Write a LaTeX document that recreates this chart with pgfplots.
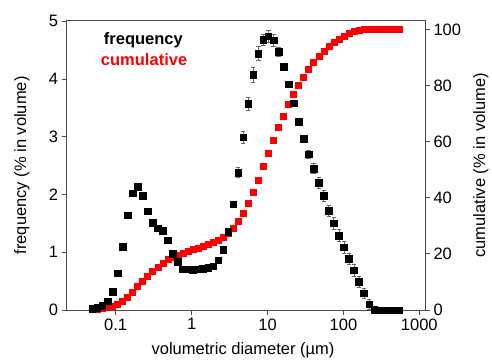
\documentclass[border=0pt]{standalone}
\usepackage{pgfplots}
\usepackage{pgfplotstable}
\usepackage{fontspec}
\setmainfont{Liberation Sans}
\pgfplotsset{compat=1.18}

\pgfplotstableread{
x f e c
0.04921 0.02 0 0.3
0.05734 0.04 0 0.4
0.06679 0.07 0 0.7
0.07779 0.15 0 1.0
0.09062 0.32 0 1.4
0.10555 0.64 0 2.0
0.12294 1.10 0 3.0
0.14322 1.64 0 4.4
0.16683 2.02 0 6.4
0.19430 2.14 0 8.4
0.22632 1.98 0 10.3
0.26364 1.71 0 12.0
0.30710 1.51 0 13.8
0.35771 1.42 0 15.3
0.41677 1.37 0 16.8
0.48540 1.21 0 18.0
0.56548 0.98 0 18.9
0.65873 0.84 0 19.7
0.76737 0.71 0 20.3
0.89387 0.71 0 20.9
1.0412 0.70 0 21.5
1.2129 0.71 0 22.2
1.4128 0.72 0 22.7
1.6456 0.73 0 23.3
1.9171 0.76 0 24.1
2.2333 0.86 0 25.0
2.6015 1.04 0 26.0
3.0304 1.36 0 27.4
3.5298 1.83 0.03 29.2
4.1114 2.38 0.09 31.6
4.7889 2.99 0.10 34.5
5.5784 3.57 0.12 37.9
6.4982 4.07 0.13 42.0
7.5697 4.44 0.12 46.4
8.8176 4.68 0.10 51.1
10.271 4.74 0.10 55.9
11.965 4.67 0.10 60.6
13.937 4.47 0.08 65.2
16.235 4.21 0.04 69.2
18.911 3.91 0.03 73.4
22.029 3.58 0.03 77.0
25.661 3.26 0.03 80.0
29.893 2.97 0.04 83.0
34.820 2.70 0.07 85.9
40.561 2.45 0.09 88.2
47.248 2.20 0.10 90.3
55.038 1.98 0.10 92.1
64.113 1.72 0.10 93.9
74.683 1.50 0.10 95.4
86.995 1.29 0.10 96.6
101.31 1.09 0.10 97.7
118.03 0.89 0.10 98.6
137.49 0.69 0.10 99.2
160.16 0.49 0.10 99.7
186.56 0.29 0.09 99.9
217.32 0.10 0.08 100
253.15 0.01 0 100
294.88 0 0 100
343.49 0 0 100
400.1 0 0 100
466.1 0 0 100
542.9 0 0 100
}\data

\begin{document}
\begin{tikzpicture}
\path[use as bounding box] (-66.7pt,-50pt) rectangle (425.3pt,310pt);
\begin{axis}[
  width=358.3pt, height=289.3pt, scale only axis,
  at={(0pt,0pt)}, anchor=south west,
  xmode=log, xmin=0.02262, xmax=1188,
  tick align=outside, major tick length=5pt,
  xminorticks=false, yminorticks=false,
  axis line style={black!70, line width=0.9pt},
  every tick/.style={black!70, line width=0.9pt},
  tick label style={font=\fontsize{16.5}{19}\selectfont},
  label style={font=\fontsize{16.5}{19}\selectfont},
  ymin=0, ymax=103.1,
  ytick={0,20,40,60,80,100}, yticklabels={0,20,40,60,80,100},
  ytick pos=right, yticklabel pos=right,
  xtick={0.1,1,10,100,1000}, xticklabels={0.1,1,10,100,1000},
  xtick pos=bottom,
  xlabel={volumetric diameter (µm)},
  xlabel style={at={(axis description cs:0.492,-0.138)}, anchor=center},
  ylabel={cumulative (\% in volume)},
  ylabel style={at={(axis description cs:1.156,0.5)}, anchor=center},
]
\addplot[only marks, mark=square*, mark size=3pt, red, mark options={draw=red, fill=red}]
  table[x=x, y=c] {\data};
\end{axis}
\begin{axis}[
  width=358.3pt, height=289.3pt, scale only axis,
  at={(0pt,0pt)}, anchor=south west,
  xmode=log, xmin=0.02262, xmax=1188,
  tick align=outside, major tick length=5pt,
  xminorticks=false, yminorticks=false,
  axis line style={black!70, line width=0.9pt},
  every tick/.style={black!70, line width=0.9pt},
  tick label style={font=\fontsize{16.5}{19}\selectfont},
  label style={font=\fontsize{16.5}{19}\selectfont},
  ymin=0, ymax=5.01,
  axis x line=none, axis y line*=left,
  ytick={0,1,2,3,4,5}, yticklabels={0,1,2,3,4,5},
  ylabel={frequency (\% in volume)},
  ylabel style={at={(axis description cs:-0.125,0.5)}, anchor=center},
]
\addplot[only marks, mark=square*, mark size=3.3pt, black,
  error bars/.cd, y dir=both, y explicit,
  error bar style={line width=0.6pt, black!60},
  error mark options={rotate=90, mark size=2.2pt, line width=0.6pt, black!60}]
  table[x=x, y=f, y error=e] {\data};
\node[font=\bfseries\fontsize{16.5}{19}\selectfont, black] at (rel axis cs:0.214,0.933) {frequency};
\node[font=\bfseries\fontsize{16.5}{19}\selectfont, red] at (rel axis cs:0.216,0.864) {cumulative};
\end{axis}
\end{tikzpicture}
\end{document}
